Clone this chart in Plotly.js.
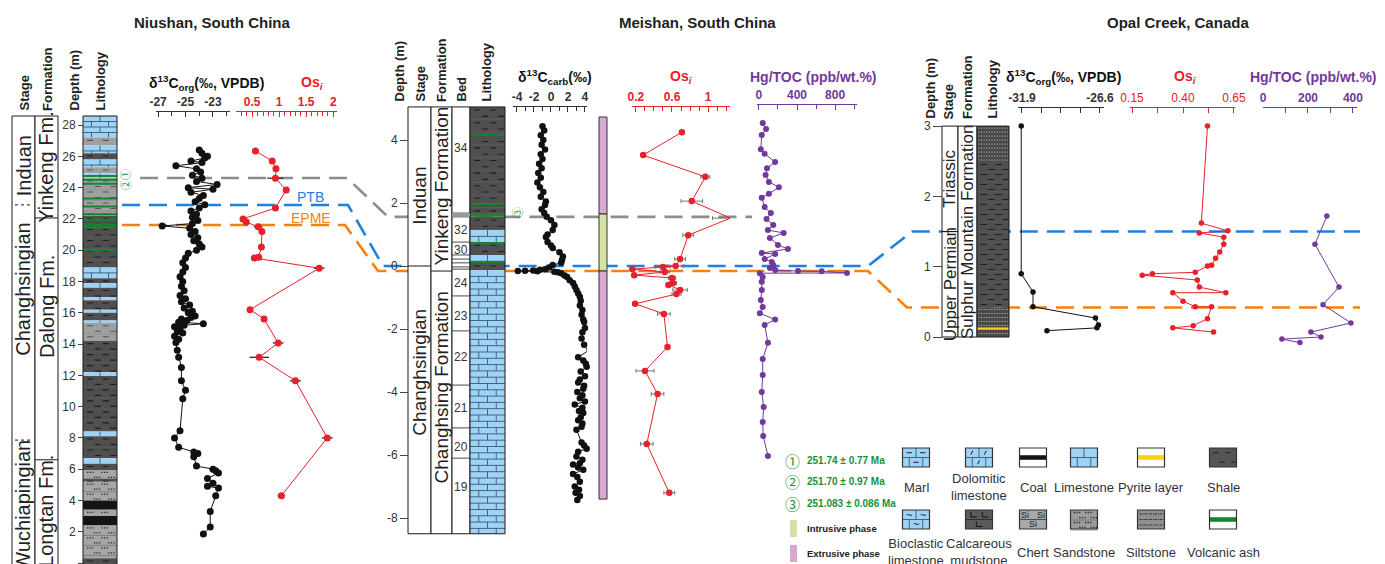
<!DOCTYPE html>
<html><head><meta charset="utf-8">
<script src="https://cdn.plot.ly/plotly-3.0.1.min.js"></script>
<style>html,body{margin:0;padding:0;background:#fff}#chart{width:1385px;height:564px}</style>
</head><body><div id="chart"></div>
<script>
// ================= DATA =================
// Niushan, South China
const nsC13Depth = [1.85,2.3,3.3,4.3,4.8,4.9,5.1,5.4,5.75,5.9,6.0,6.2,6.8,7.0,7.1,7.4,8.0,8.45,10.5,11.05,11.65,12.5,13.15,13.6,14.1,14.3,14.5,14.7,14.8,15.0,15.1,15.2,15.3,15.4,15.5,15.6,15.7,15.8,16.0,16.1,16.3,16.5,16.7,16.9,17.1,17.4,17.7,18.0,18.3,18.6,18.9,19.2,19.5,19.8,20.0,20.2,20.4,20.6,20.8,21.0,21.2,21.4,21.55,21.7,21.9,22.1,22.3,22.5,22.7,22.9,23.1,23.3,23.5,23.7,23.9,24.0,24.2,24.4,24.6,24.8,25.0,25.2,25.4,25.6,25.7,25.9,26.0,26.2,26.4];
const nsC13Val = [-23.7,-23.2,-23.2,-22.8,-22.6,-23.4,-23.0,-23.4,-22.6,-22.8,-23.0,-24.2,-24.4,-24.1,-24.4,-25.5,-25.8,-25.4,-25.2,-25.0,-25.3,-25.3,-25.5,-25.6,-25.7,-25.5,-25.8,-25.2,-25.6,-25.4,-25.8,-25.1,-23.7,-25.5,-24.9,-25.3,-24.6,-24.3,-24.8,-24.5,-25.1,-24.7,-25.3,-25.0,-25.4,-25.1,-25.3,-25.2,-25.4,-25.2,-25.0,-25.2,-25.0,-24.8,-24.2,-23.8,-24.0,-24.4,-24.1,-24.6,-24.3,-24.7,-26.7,-24.5,-24.1,-24.5,-24.2,-24.6,-24.0,-23.6,-24.3,-24.0,-23.7,-24.6,-23.0,-24.8,-22.7,-24.2,-23.8,-24.5,-23.9,-24.2,-25.7,-23.8,-24.6,-23.6,-23.4,-23.8,-24.0];
const nsOsDepth = [26.35,25.7,25.2,24.6,23.85,22.7,22.0,21.8,21.5,21.2,20.2,19.55,19.5,18.85,16.2,15.6,14.07,13.15,11.65,8.0,4.3];
const nsOsVal   = [0.56,0.87,0.94,0.93,1.13,0.93,0.33,0.39,0.61,0.68,0.67,0.62,0.54,1.74,0.46,0.72,0.98,0.63,1.30,1.89,1.04];
const nsOsErr   = [0.03,0.03,0.03,0.15,0.03,0.05,0.03,0.03,0.08,0.05,0.05,0.04,0.05,0.10,0.05,0.05,0.10,0.18,0.10,0.10,0.07];
const nsDepthTicks = [0,2,4,6,8,10,12,14,16,18,20,22,24,26,28];
const nsStageNames = ['Induan','Changhsingian','Wuchiapingian'];
const nsStageMid   = [25.4,17.5,3.7];
const nsStageBreaks = [22.9,7.86];
const nsFmNames = ['Yinkeng Fm.','Dalong Fm.','Longtan Fm.'];
const nsFmMid   = [25.3,16.4,3.3];
const nsFmBreaks = [22.06,6.6];
const nsLithType = ['lime','mud','lime','shale','lime','mud','lime','mud','shale','lime','shale','lime','shale','lime','shale','lime','shale','lime','mud','shale','lime','shale','lime','shale','lime','shale','sand','shale','sand','coal','sand','coal','sand','shale'];
const nsLithTop  = [28.58,27.2,26.7,26.2,25.8,25.3,24.9,24.6,22.2,18.9,18.2,17.9,17.6,17.0,16.8,16.2,16.0,15.5,15.35,14.2,12.2,11.95,8.4,8.1,6.7,6.35,5.95,5.4,5.2,4.0,3.4,3.0,2.4,0.3];
const nsLithBot  = [27.2,26.7,26.2,25.8,25.3,24.9,24.6,22.2,18.9,18.2,17.9,17.6,17.0,16.8,16.2,16.0,15.5,15.35,14.2,12.2,11.95,8.4,8.1,6.7,6.35,5.95,5.4,5.2,4.0,3.4,3.0,2.4,0.3,-0.1];
const nsAsh = [24.75,24.5,24.25,23.3,22.8,22.3,21.95,21.65,21.45,20.0];

// Meishan, South China
const msC13Depth = [4.44,4.3,4.15,4.0,3.85,3.7,3.55,3.4,3.25,3.1,2.95,2.8,2.65,2.5,2.35,2.2,2.05,1.94,1.8,1.68,1.56,1.45,1.3,1.14,1.0,0.92,0.76,0.65,0.57,0.44,0.3,0.19,0.1,0.03,-0.05,-0.1,-0.12,-0.14,-0.15,-0.16,-0.17,-0.18,-0.2,-0.23,-0.3,-0.35,-0.45,-0.54,-0.65,-0.76,-0.87,-0.98,-1.1,-1.25,-1.4,-1.55,-1.7,-1.78,-1.97,-2.1,-2.3,-2.5,-2.7,-2.9,-3.0,-3.1,-3.2,-3.35,-3.5,-3.6,-3.7,-3.8,-3.9,-4.0,-4.1,-4.2,-4.3,-4.4,-4.5,-4.6,-4.67,-4.8,-4.9,-5.0,-5.1,-5.2,-5.6,-5.7,-5.8,-5.9,-6.05,-6.15,-6.26,-6.3,-6.4,-6.47,-6.6,-6.7,-6.85,-7.0,-7.1,-7.2,-7.3,-7.43];
const msC13Val   = [-1.0,-0.8,-1.2,-0.9,-1.1,-0.7,-1.2,-1.0,-1.4,-1.1,-1.5,-1.2,-1.6,-1.3,-0.9,-1.2,-0.6,-0.7,-1.1,-0.8,-0.5,0.0,0.4,0.2,-0.4,-0.6,-0.4,0.0,0.2,1.0,1.4,1.3,1.2,0.2,-0.2,-0.7,-1.3,-2.1,-3.05,-3.9,-1.6,0.4,0.8,1.2,1.6,1.9,2.2,2.6,2.8,3.0,3.2,3.4,3.5,3.4,3.7,3.6,3.8,3.9,4.0,3.7,3.6,3.9,4.3,3.2,3.8,4.1,4.2,3.5,4.0,3.4,3.2,3.9,3.8,3.1,3.7,3.4,4.0,2.8,3.7,3.3,3.8,3.5,3.2,3.7,3.6,3.0,3.6,3.9,4.2,3.2,3.0,3.7,3.4,2.6,3.2,3.8,2.6,3.1,3.4,2.8,3.3,2.9,3.4,3.1];
const msOsDepth = [4.25,3.52,2.83,2.06,1.52,0.98,0.22,0.0,-0.03,-0.1,-0.19,-0.29,-0.38,-0.54,-0.6,-0.76,-0.89,-1.2,-1.52,-2.57,-3.33,-4.06,-5.65,-7.2];
const msOsVal   = [0.71,0.28,0.97,0.82,1.25,0.78,0.69,0.64,0.5,0.16,0.52,0.18,0.6,0.61,0.56,0.69,0.65,0.19,0.51,0.55,0.3,0.44,0.32,0.57];
const msOsErr   = [0.02,0.02,0.05,0.12,0.2,0.06,0.06,0.09,0.08,0.02,0.05,0.02,0.04,0.04,0.02,0.08,0.05,0.02,0.07,0.02,0.1,0.07,0.07,0.06];
const msHgDepth = [4.54,4.35,4.16,3.71,3.56,3.3,3.1,2.89,2.67,2.5,2.29,2.17,1.87,1.68,1.49,1.3,1.14,1.05,0.89,0.67,0.54,0.41,0.38,0.22,0.13,0.03,-0.06,-0.13,-0.16,-0.17,-0.22,-0.23,-0.35,-0.5,-0.76,-1.08,-1.3,-1.5,-1.7,-1.87,-2.44,-2.95,-3.46,-4.0,-4.48,-4.95,-5.4,-6.03];
const msHgVal   = [40,75,30,20,60,170,85,70,105,210,105,30,60,125,80,150,95,260,115,200,305,30,170,60,135,150,115,170,410,660,925,10,40,30,30,20,40,10,170,60,95,40,40,30,50,40,45,95];
const msDepthTicks = [-8,-6,-4,-2,0,2,4];
const msStageNames = ['Induan','Changhsingian'];
const msStageMid   = [2.25,-3.37];
const msStageBreaks = [0.0];
const msFmNames = ['Yinkeng Formation','Changhsing Formation'];
const msFmMid   = [2.54,-3.84];
const msFmBreaks = [-0.16];
const msBedNames = ['34','32','30','24','23','22','21','20','19'];
const msBedMid   = [3.75,1.14,0.5,-0.54,-1.6,-2.9,-4.5,-5.75,-7.0];
const msBedBreaks = [1.68,1.56,0.76,0.35,0.22,0.1,-0.03,-0.1,-0.95,-2.06,-3.78,-5.14,-6.1];
const msLithType = ['shale','ash','shale','lime','shale','lime','shale','lime'];
const msLithTop  = [5.05,1.68,1.56,1.14,0.76,0.35,0.1,-0.13];
const msLithBot  = [1.68,1.56,1.14,0.76,0.35,0.1,-0.13,-8.5];
const msAsh = [4.17,1.97,0.72,0.13];
const msPhaseType = ['Extrusive','Intrusive','Extrusive'];
const msPhaseTop  = [4.73,1.65,-0.16];
const msPhaseBot  = [1.65,-0.16,-7.4];

// Opal Creek, Canada
const ocC13Depth = [3.0,0.9,0.64,0.43,0.27,0.17,0.13,0.09];
const ocC13Val   = [-31.95,-31.95,-31.15,-31.15,-26.9,-26.7,-26.8,-30.2];
const ocOsDepth = [3.0,1.62,1.51,1.48,1.42,1.32,1.21,1.12,1.02,1.01,0.92,0.9,0.88,0.81,0.71,0.63,0.63,0.51,0.43,0.43,0.26,0.16,0.13,0.07];
const ocOsVal   = [0.52,0.49,0.62,0.48,0.60,0.60,0.58,0.56,0.54,0.52,0.46,0.25,0.20,0.47,0.48,0.61,0.35,0.40,0.46,0.54,0.52,0.45,0.35,0.55];
const ocHgDepth = [1.72,1.32,0.71,0.46,0.2,0.07,0.0,-0.03,-0.08];
const ocHgVal   = [284,231,338,267,391,213,258,84,164];
const ocDepthTicks = [0,1,2,3];
const ocStageNames = ['Triassic','Upper Permian'];
const ocStageMid   = [2.25,0.75];
const ocStageBreaks = [1.5];
const ocFmNames = ['Sulphur Mountain Formation'];
const ocFmMid   = [1.5];
const ocLithType = ['silt','shale','silt'];
const ocLithTop  = [3.0,2.49,0.42];
const ocLithBot  = [2.49,0.42,0.0];
const ocPyrite = [0.12];

// Correlation levels (depths in each section)
const corrNames   = ['ash','PTB','EPME'];
const corrNsDepth = [24.62,22.89,21.61];
const corrMsDepth = [1.56,0.0,-0.16];
const corrOcDepth = [null,1.5,0.42];

// Legend
const ageLabels = ['251.74 ± 0.77 Ma','251.70 ± 0.97 Ma','251.083 ± 0.086 Ma'];
const ageMarks  = ['①','②','③'];
const lithLegendNames = ['Marl','Dolomitic<br>limestone','Coal','Limestone','Pyrite layer','Shale','Bioclastic<br>limestone','Calcareous<br>mudstone','Chert','Sandstone','Siltstone','Volcanic ash'];
const lithLegendTypes = ['marl','dolo','coalL','lime','pyriteL','shaleL','bio','calc','chert','sandL','siltL','ashL'];

// ================= LAYOUT HELPERS =================
const W=1385,H=564;
const FONT='Arial, "Liberation Sans", Helvetica, sans-serif';
const CJK='"Noto Sans CJK SC", "DejaVu Sans", sans-serif';
const RED='#e8202a', PURPLE='#70399b', BLACK='#111111', GREEN='#17913a', BLUE='#1f80e0', ORANGE='#f7800f', GREY='#8d8d8d', TXT='#222222';
const SEC={ns:{p0:563,s:15.64,yax:'y'}, ms:{p0:266,s:31.5,yax:'y2'}, oc:{p0:337,s:70.3,yax:'y3'}};
const dpx=(sec,d)=>sec.p0-d*sec.s;
const pxd=(sec,p)=>(sec.p0-p)/sec.s;
const PX=p=>p/W, PY=p=>1-p/H;

const shapes=[], annotations=[];
function addLine(x0,y0,x1,y1,yref,color,width,dash){shapes.push({type:'line',xref:'paper',yref,x0,y0,x1,y1,line:{color,width,dash:dash||'solid'},layer:'below'});}
function addRect(x0,y0,x1,y1,yref,fill,lc,lw){shapes.push({type:'rect',xref:'paper',yref,x0,y0,x1,y1,fillcolor:fill,line:{color:lc||'rgba(0,0,0,0)',width:lw||0},layer:'below'});}
function addPath(d,yref,color,width){if(d) shapes.push({type:'path',xref:'paper',yref,path:d,line:{color,width},layer:'below'});}
function ann(text,xpx,ypx,o){annotations.push(Object.assign({text,x:PX(xpx),y:PY(ypx),xref:'paper',yref:'paper',showarrow:false,xanchor:'center',yanchor:'middle',font:{family:FONT,size:12,color:TXT}},o||{}));}

const LSTYLE={
  lime:{fill:'#9fd3f5',brick:true},marl:{fill:'#9fd3f5',brick:true,mark:'dash'},dolo:{fill:'#9fd3f5',brick:true,mark:'dolo'},bio:{fill:'#9fd3f5',brick:true,mark:'bio'},
  shale:{fill:'#4f4f4f',dash:'#1e1e1e'},shaleL:{fill:'#555555',dash:'#1e1e1e'},mud:{fill:'#a0a0a0',dash:'#555555'},calc:{fill:'#5a5a5a',mark:'L'},
  sand:{fill:'#a6a6a6',dots:'#2a2a2a'},sandL:{fill:'#9c9c9c',dots:'#2a2a2a'},silt:{fill:'#4a4a4a',silt:'#c4c4c4'},siltL:{fill:'#8f8f8f',dashdot:'#333333'},
  coal:{fill:'#141414'},coalL:{fill:'#ffffff',band:'#141414'},pyriteL:{fill:'#ffffff',band:'#ffd200'},ashL:{fill:'#ffffff',band:'#16862e'},
  chert:{fill:'#a8a8a8',chert:true},ash:{fill:'#16862e'}
};
// draw one lithology block in pixel space; toY converts pixel y to the coordinate system of yref
function lithBlock(type,x0,x1,pT,pB,yref,toY,rh){
  const st=LSTYLE[type]; const w=x1-x0;
  addRect(PX(x0),toY(pT),PX(x1),toY(pB),yref,st.fill);
  const seg=(xa,ya,xb,yb)=>'M'+PX(xa).toFixed(5)+','+toY(ya).toFixed(4)+'L'+PX(xb).toFixed(5)+','+toY(yb).toFixed(4);
  let d='',m='';
  if(st.brick){
    let i=0;
    for(let y=pT;y<pB-0.8;y+=rh,i++){
      const yb=Math.min(y+rh,pB);
      if(y>pT+0.1) d+=seg(x0,y,x1,y);
      const js=(i%2===0)?[0.5]:[0.25,0.75];
      js.forEach(f=>{d+=seg(x0+w*f,y,x0+w*f,yb);});
      const mids=(i%2===0)?[0.25,0.75]:[0.5];
      const ym=(y+yb)/2;
      if(st.mark==='dash') mids.forEach(f=>{m+=seg(x0+w*(f-0.1),ym,x0+w*(f+0.1),ym);});
      if(st.mark==='dolo') mids.forEach(f=>{m+=seg(x0+w*(f-0.05),ym+2,x0+w*(f+0.02),ym-2);});
      if(st.mark==='bio') mids.forEach(f=>{ann('~',x0+w*f,ym,{font:{family:FONT,size:11,color:'#111'}});});
    }
    addPath(d,yref,'#2b4a64',0.8); addPath(m,yref,'#1a1a1a',1);
  }
  if(st.dash){
    const r=(rh||5); let i=0;
    for(let y=pT+r/2;y<pB;y+=r,i++){
      const offs=(i%2===0)?[0.12,0.58]:[0.35,0.8]; const L=Math.min(6,w*0.2);
      offs.forEach(f=>{d+=seg(x0+w*f,y,x0+w*f+L,y);});
      if(i%2===1 && y+r/2<pB-0.5) m+=seg(x0,y+r/2,x1,y+r/2);
    }
    addPath(m,yref,'rgba(120,120,120,0.55)',0.6); addPath(d,yref,st.dash,1.1);
  }
  if(st.mark==='L'){
    const r=(pB-pT)/2;
    [[0.2,pT+2],[0.62,pT+2],[0.4,pT+r+2]].forEach(([f,y])=>{const xx=x0+w*f; d+='M'+PX(xx).toFixed(5)+','+toY(y).toFixed(4)+'L'+PX(xx).toFixed(5)+','+toY(y+5).toFixed(4)+'L'+PX(xx+6).toFixed(5)+','+toY(y+5).toFixed(4);});
    addPath(seg(x0,pT+r,x1,pT+r),yref,'#222',0.8); addPath(d,yref,'#111',1);
  }
  if(st.dots){
    let i=0;
    for(let y=pT+2.5;y<pB-0.5;y+=5,i++){
      const g0=(i%2===0)?0.12:0.32;
      for(let gx=x0+w*g0; gx<x1-3; gx+=w*0.42){ for(let k=0;k<3;k++){const xx=gx+k*2.6; if(xx<x1-1) d+=seg(xx,y,xx+1.3,y);} }
      if(i%2===1) m+=seg(x0,y+2.5,x1,y+2.5);
    }
    addPath(m,yref,'#6a6a6a',0.6); addPath(d,yref,st.dots,1.3);
  }
  if(st.silt){
    for(let y=pT+2;y<pB-0.5;y+=4){ for(let xx=x0+1.5;xx<x1-1;xx+=2.6) d+=seg(xx,y,xx+1,y); }
    addPath(d,yref,st.silt,1);
  }
  if(st.dashdot){
    for(let y=pT+4;y<pB-2;y+=5.5){ for(let xx=x0+2;xx<x1-3;xx+=5){ d+=seg(xx,y,xx+2.5,y); m+=seg(xx+3.4,y,xx+4.2,y);} }
    addPath(d,yref,st.dashdot,1); addPath(m,yref,st.dashdot,1);
  }
  if(st.band){ const h=pB-pT; addRect(PX(x0),toY(pT+h*0.38),PX(x1),toY(pT+h*0.62),yref,st.band); }
  if(st.chert){
    const h=pB-pT; addPath(seg(x0,pT+h/2,x1,pT+h/2),yref,'#333',0.8);
    ann('Si',x0+w*0.2,pT+h*0.27,{font:{family:FONT,size:9,color:'#222'}});
    ann('Si',x0+w*0.8,pT+h*0.27,{font:{family:FONT,size:9,color:'#222'}});
    ann('Si',x0+w*0.5,pT+h*0.75,{font:{family:FONT,size:9,color:'#222'}});
  }
}

// ---------- section columns ----------
function drawSection(sec,cfg){
  const yr=sec.yax, toY=p=>pxd(sec,p);
  cfg.boxes.forEach(b=>{ addRect(PX(b.x0),cfg.top,PX(b.x1),cfg.bot,yr,'#ffffff','#1a1a1a',1); });
  cfg.lith.type.forEach((t,i)=>{
    const pT=dpx(sec,cfg.lith.top[i]), pB=dpx(sec,cfg.lith.bot[i]);
    if(t==='ash'){ addRect(PX(cfg.lx0),cfg.lith.top[i],PX(cfg.lx1),cfg.lith.bot[i],yr,LSTYLE.ash.fill); return; }
    lithBlock(t,cfg.lx0,cfg.lx1,pT,pB,yr,toY,cfg.rh);
  });
  (cfg.ash||[]).forEach(d=>addLine(PX(cfg.lx0),d,PX(cfg.lx1),d,yr,'#16862e',2));
  (cfg.pyrite||[]).forEach(d=>addLine(PX(cfg.lx0),d,PX(cfg.lx1),d,yr,'#ffd200',2.2));
  addRect(PX(cfg.lx0),cfg.top,PX(cfg.lx1),cfg.lbot,yr,'rgba(0,0,0,0)','#1a1a1a',1);
}

// Niushan
drawSection(SEC.ns,{top:28.58,bot:-0.5,lbot:-0.5,lx0:83,lx1:117,rh:5.5,
  boxes:[{x0:12,x1:35},{x0:35,x1:58}],
  lith:{type:nsLithType,top:nsLithTop,bot:nsLithBot},ash:nsAsh});
nsFmBreaks.forEach(d=>addLine(PX(35),d,PX(58),d,'y','#1a1a1a',1));
nsStageBreaks.forEach(d=>addLine(PX(15),d,PX(31),d,'y','#444',1.2,'dot'));
nsStageNames.forEach((t,i)=>ann(t,23.5,dpx(SEC.ns,nsStageMid[i]),{textangle:-90,font:{family:FONT,size:20,color:TXT}}));
nsFmNames.forEach((t,i)=>ann(t,46.5,dpx(SEC.ns,nsFmMid[i]),{textangle:-90,font:{family:FONT,size:20,color:TXT}}));

// Meishan
drawSection(SEC.ms,{top:5.05,bot:-8.5,lbot:-8.5,lx0:470,lx1:505,rh:6.3,
  boxes:[{x0:408,x1:431},{x0:431,x1:452},{x0:452,x1:470}],
  lith:{type:msLithType,top:msLithTop,bot:msLithBot},ash:msAsh});
msStageBreaks.forEach(d=>addLine(PX(408),d,PX(431),d,'y2','#1a1a1a',1));
msFmBreaks.forEach(d=>addLine(PX(431),d,PX(452),d,'y2','#1a1a1a',1));
msBedBreaks.forEach(d=>addLine(PX(452),d,PX(470),d,'y2','#1a1a1a',0.8));
addRect(PX(452),1.68,PX(470),1.56,'y2','#9a9a9a');
msStageNames.forEach((t,i)=>ann(t,419.5,dpx(SEC.ms,msStageMid[i]),{textangle:-90,font:{family:FONT,size:19,color:TXT}}));
msFmNames.forEach((t,i)=>ann(t,441.5,dpx(SEC.ms,msFmMid[i]),{textangle:-90,font:{family:FONT,size:19,color:TXT}}));
msBedNames.forEach((t,i)=>ann(t,461,dpx(SEC.ms,msBedMid[i]),{font:{family:FONT,size:12,color:'#333'}}));
msPhaseType.forEach((t,i)=>addRect(PX(599),msPhaseTop[i],PX(607),msPhaseBot[i],'y2',t==='Intrusive'?'#d4e3a5':'#d7a9d3','#333',1));

// Opal Creek
drawSection(SEC.oc,{top:3.0,bot:0.0,lbot:0.0,lx0:977,lx1:1009,rh:5,
  boxes:[{x0:942,x1:958},{x0:958,x1:977}],
  lith:{type:ocLithType,top:ocLithTop,bot:ocLithBot},pyrite:ocPyrite});
ocStageBreaks.forEach(d=>addLine(PX(942),d,PX(958),d,'y3','#1a1a1a',1.2));
ocStageNames.forEach((t,i)=>ann(t,950,dpx(SEC.oc,ocStageMid[i]),{textangle:-90,font:{family:FONT,size:17,color:TXT}}));
ocFmNames.forEach((t,i)=>ann(t,967.5,dpx(SEC.oc,ocFmMid[i]),{textangle:-90,font:{family:FONT,size:17,color:TXT}}));

// ---------- correlation lines ----------
const corrColors=[GREY,BLUE,ORANGE];
const corrRoutes=[
  [[140,'ns'],[347,'ns'],[388,'ms'],[752,'ms']],
  [[122,'ns'],[348,'ns'],[383,'ms'],[868,'ms'],[912,'oc'],[1360,'oc']],
  [[122,'ns'],[345,'ns'],[378,'ms'],[868,'ms'],[907,'oc'],[1360,'oc']]
];
corrNames.forEach((nm,i)=>{
  const dep={ns:corrNsDepth[i],ms:corrMsDepth[i],oc:corrOcDepth[i]};
  let d='';
  corrRoutes[i].forEach(([xp,s],k)=>{ d+=(k?'L':'M')+PX(xp).toFixed(5)+','+PY(dpx(SEC[s],dep[s])).toFixed(5); });
  shapes.unshift({type:'path',xref:'paper',yref:'paper',path:d,line:{color:corrColors[i],width:2.6,dash:'18px,9px'},layer:'below'});
});
ann('PTB',310,197,{font:{family:FONT,size:14,color:BLUE}});
ann('EPME',311,218,{font:{family:FONT,size:14,color:ORANGE}});
ann('①',125,175,{textangle:-90,font:{family:CJK,size:11,color:GREEN}});
ann('②',125,185,{textangle:-90,font:{family:CJK,size:11,color:GREEN}});
ann('③',517,213,{textangle:-90,font:{family:CJK,size:11,color:GREEN}});

// ---------- headers & titles ----------
const HB={family:FONT,size:13,color:TXT,weight:'bold'};
[['Stage',24,113],['Formation',47,113],['Depth (m)',74,113],['Lithology',100,113],
 ['Depth (m)',399,104],['Stage',420,104],['Formation',441,104],['Bed',461,104],['Lithology',486,104],
 ['Depth (m)',930,121],['Stage',948,121],['Formation',967,121],['Lithology',992,121]
].forEach(([t,x,y])=>ann(t,x,y,{textangle:-90,yanchor:'bottom',font:HB}));
const TB={family:FONT,size:15,color:TXT,weight:'bold'};
ann('Niushan, South China',212,22,{font:TB});
ann('Meishan, South China',697,22,{font:TB});
ann('Opal Creek, Canada',1178,22,{font:TB});
const AT=(c)=>({family:FONT,size:14,color:c,weight:'bold'});
ann('δ<sup>13</sup>C<sub>org</sub>(‰, VPDB)',206,83,{font:AT(BLACK)});
ann('Os<sub><i>i</i></sub>',312,83,{font:AT(RED)});
ann('δ<sup>13</sup>C<sub>carb</sub>(‰)',555,77,{font:AT(BLACK)});
ann('Os<sub><i>i</i></sub>',681,77,{font:AT(RED)});
ann('Hg/TOC (ppb/wt.%)',813,77,{font:AT(PURPLE)});
ann('δ<sup>13</sup>C<sub>org</sub>(‰, VPDB)',1063,77,{font:AT(BLACK)});
ann('Os<sub><i>i</i></sub>',1185,77,{font:AT(RED)});
ann('Hg/TOC (ppb/wt.%)',1313,77,{font:AT(PURPLE)});

// ---------- legend ----------
const ageY=[460,481,503];
ageLabels.forEach((t,i)=>{
  ann(ageMarks[i],792,ageY[i],{font:{family:CJK,size:15,color:GREEN}});
  ann(t,805,ageY[i],{xanchor:'left',font:{family:FONT,size:10,color:GREEN,weight:'bold'}});
});
addRect(PX(790),PY(520),PX(797),PY(537),'paper','#d4e3a5');
addRect(PX(790),PY(545),PX(797),PY(562),'paper','#d7a9d3');
ann('Intrusive phase',805,528,{xanchor:'left',font:{family:FONT,size:9.5,color:TXT,weight:'bold'}});
ann('Extrusive phase',805,553,{xanchor:'left',font:{family:FONT,size:9.5,color:TXT,weight:'bold'}});
const legCx=[916,979,1033,1084,1151,1223];
lithLegendTypes.forEach((t,i)=>{
  const row=Math.floor(i/6), cx=legCx[i%6];
  const yT=row?510:448, yB=row?529:467;
  lithBlock(t,cx-13.5,cx+13.5,yT,yB,'paper',PY,9.5);
  addRect(PX(cx-13.5),PY(yT),PX(cx+13.5),PY(yB),'paper','rgba(0,0,0,0)','#333',1.2);
  ann(lithLegendNames[i],cx,row?552:487,{font:{family:FONT,size:13,color:'#333'}});
});

// ================= TRACES =================
const mk=(c,s)=>({color:c,size:s,line:{width:0}});
const traces=[
  {x:nsC13Val,y:nsC13Depth,xaxis:'x',yaxis:'y',mode:'lines+markers',marker:mk(BLACK,7),line:{color:BLACK,width:1},cliponaxis:false},
  {x:nsOsVal,y:nsOsDepth,xaxis:'x2',yaxis:'y',mode:'lines+markers',marker:mk(RED,7),line:{color:RED,width:1},cliponaxis:false,
   error_x:{type:'data',array:nsOsErr,color:'#333',thickness:1.3,width:0}},
  {x:msC13Val,y:msC13Depth,xaxis:'x3',yaxis:'y2',mode:'lines+markers',marker:mk(BLACK,6.5),line:{color:BLACK,width:1},cliponaxis:false},
  {x:msOsVal,y:msOsDepth,xaxis:'x4',yaxis:'y2',mode:'lines+markers',marker:mk(RED,6.5),line:{color:RED,width:1},cliponaxis:false,
   error_x:{type:'data',array:msOsErr,color:'#777',thickness:1,width:2}},
  {x:msHgVal,y:msHgDepth,xaxis:'x5',yaxis:'y2',mode:'lines+markers',marker:mk(PURPLE,6),line:{color:PURPLE,width:1},cliponaxis:false},
  {x:ocC13Val,y:ocC13Depth,xaxis:'x6',yaxis:'y3',mode:'lines+markers',marker:mk(BLACK,5.5),line:{color:BLACK,width:1},cliponaxis:false},
  {x:ocOsVal,y:ocOsDepth,xaxis:'x7',yaxis:'y3',mode:'lines+markers',marker:mk(RED,5.5),line:{color:RED,width:1},cliponaxis:false},
  {x:ocHgVal,y:ocHgDepth,xaxis:'x8',yaxis:'y3',mode:'lines+markers',marker:mk(PURPLE,5.5),line:{color:PURPLE,width:1},cliponaxis:false}
];

function xAx(x0,x1,range,lineY,color,tv,tt,minor,bold){
  const a={domain:[PX(x0),PX(x1)],range,anchor:'free',position:PY(lineY),side:'top',showline:true,linecolor:color,linewidth:1,
    ticks:'inside',ticklen:5,tickcolor:color,tickwidth:1,tickmode:'array',tickvals:tv,ticktext:tt,
    tickfont:{family:FONT,size:12,color,weight:bold?'bold':'normal'},showgrid:false,zeroline:false,fixedrange:true};
  if(Array.isArray(minor)) a.minor={tickmode:'array',tickvals:minor,ticks:'inside',ticklen:5,tickcolor:color,tickwidth:1,showgrid:false};
  else if(minor) a.minor={dtick:minor,tick0:0,ticks:'inside',ticklen:4,tickcolor:color,tickwidth:1,showgrid:false};
  return a;
}
function yAx(sec,pos,tv,len){
  return {domain:[0,1],range:[(sec.p0-H)/sec.s,sec.p0/sec.s],anchor:'free',position:PX(pos),side:'left',showline:false,
    ticks:'outside',ticklen:len,tickcolor:'#444',tickwidth:1,tickmode:'array',tickvals:tv,ticktext:tv.map(String),
    tickfont:{family:FONT,size:12,color:'#333'},showgrid:false,zeroline:false,fixedrange:true};
}
const layout={
  width:W,height:H,margin:{l:0,r:0,t:0,b:0},paper_bgcolor:'#ffffff',plot_bgcolor:'rgba(0,0,0,0)',showlegend:false,
  font:{family:FONT,color:TXT},
  yaxis:yAx(SEC.ns,83,nsDepthTicks,5),
  yaxis2:yAx(SEC.ms,408,msDepthTicks,8),
  yaxis3:yAx(SEC.oc,942,ocDepthTicks,9),
  xaxis:xAx(156,230,[-27.15,-21.76],111,'#333',[-27,-25,-23],['-27','-25','-23'],1,true),
  xaxis2:xAx(236,337,[0.2,2.07],111,RED,[0.5,1,1.5,2],['0.5','1','1.5','2'],0.1,true),
  xaxis3:xAx(513,587,[-4.47,4.24],106,'#333',[-4,-2,0,2,4],['-4','-2','0','2','4'],1,true),
  xaxis4:xAx(632,730,[0.156,1.244],106,RED,[0.2,0.6,1.0],['0.2','0.6','1'],0.1,true),
  xaxis5:xAx(757,857,[-20,1030],104,PURPLE,[0,400,800],['0','400','800'],200,true),
  xaxis6:xAx(1018,1104,[-32.17,-26.32],107,'#333',[-31.9,-26.6],['-31.9','-26.6'],[-30.575,-29.25,-27.925],true),
  xaxis7:xAx(1130,1235,[0.14,0.655],107,RED,[0.15,0.4,0.65],['0.15','0.40','0.65'],[0.275,0.525],false),
  xaxis8:xAx(1263,1357,[0,418],107,PURPLE,[0,200,400],['0','200','400'],[100,300],true),
  shapes,annotations
};
Plotly.newPlot('chart',traces,layout,{displayModeBar:false,staticPlot:true});
</script></body></html>
